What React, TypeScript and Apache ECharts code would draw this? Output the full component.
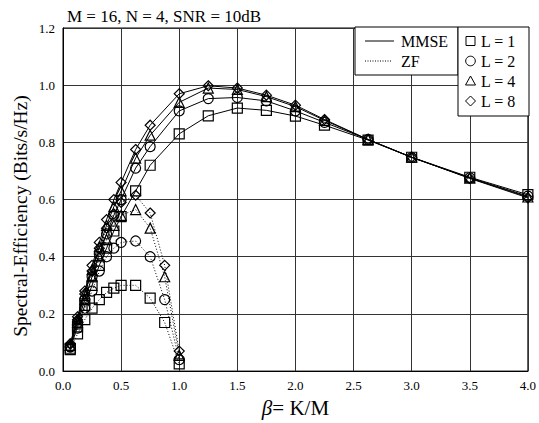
import React, { useEffect, useRef } from "react";
import * as echarts from "echarts";

const betaMMSE = [0.0625, 0.125, 0.1875, 0.25, 0.3125, 0.375, 0.4375, 0.5, 0.625, 0.75, 1.0, 1.25, 1.5, 1.75, 2.0, 2.25, 2.625, 3.0, 3.5, 4.0];
const betaZF = [0.0625, 0.125, 0.1875, 0.25, 0.3125, 0.375, 0.4375, 0.5, 0.625, 0.75, 0.875, 1.0];

const mmseL1 = [0.08, 0.155, 0.23, 0.3, 0.37, 0.43, 0.49, 0.54, 0.63, 0.72, 0.83, 0.893, 0.92, 0.912, 0.892, 0.86, 0.808, 0.748, 0.678, 0.617];
const mmseL2 = [0.085, 0.17, 0.25, 0.33, 0.41, 0.48, 0.545, 0.6, 0.71, 0.785, 0.91, 0.953, 0.957, 0.945, 0.91, 0.87, 0.81, 0.747, 0.676, 0.612];
const mmseL4 = [0.09, 0.18, 0.27, 0.355, 0.435, 0.51, 0.575, 0.63, 0.745, 0.825, 0.94, 0.99, 0.985, 0.96, 0.925, 0.877, 0.81, 0.748, 0.675, 0.609];
const mmseL8 = [0.095, 0.19, 0.28, 0.37, 0.45, 0.53, 0.6, 0.66, 0.775, 0.86, 0.97, 0.998, 0.99, 0.965, 0.93, 0.88, 0.81, 0.748, 0.674, 0.606];

const zfL1 = [0.075, 0.13, 0.18, 0.22, 0.25, 0.275, 0.29, 0.3, 0.3, 0.255, 0.17, 0.025];
const zfL2 = [0.085, 0.15, 0.22, 0.28, 0.35, 0.4, 0.43, 0.45, 0.455, 0.4, 0.25, 0.04];
const zfL4 = [0.09, 0.17, 0.25, 0.33, 0.4, 0.46, 0.51, 0.545, 0.565, 0.5, 0.33, 0.055];
const zfL8 = [0.095, 0.18, 0.27, 0.35, 0.43, 0.5, 0.55, 0.59, 0.615, 0.553, 0.37, 0.07];

const seriesNamesL = ["L = 1", "L = 2", "L = 4", "L = 8"];
const symbols = ["rect", "circle", "triangle", "diamond"];
const methodNames = ["MMSE", "ZF"];
const yAxisTitle = "Spectral-Efficiency (Bits/s/Hz)";

const FONT = "'Liberation Serif', 'Times New Roman', serif";

function pairs(xs: number[], ys: number[]) {
  return xs.map((x, i) => [x, ys[i]]);
}

export default function App() {
  const ref = useRef<HTMLDivElement>(null);
  useEffect(() => {
    if (!ref.current) return;
    const chart = echarts.init(ref.current, undefined, { renderer: "svg" });
    const mmse = [mmseL1, mmseL2, mmseL4, mmseL8];
    const zf = [zfL1, zfL2, zfL4, zfL8];
    const series: any[] = [];
    mmse.forEach((d, i) => {
      series.push({
        type: "line",
        name: methodNames[0] + " " + seriesNamesL[i],
        data: pairs(betaMMSE, d),
        symbol: symbols[i],
        symbolSize: 10,
        showSymbol: true,
        lineStyle: { color: "#000", width: 1, type: "solid" },
        itemStyle: { color: "rgba(0,0,0,0)", borderColor: "#000", borderWidth: 1.2 },
        z: 3,
      });
    });
    zf.forEach((d, i) => {
      series.push({
        type: "line",
        name: methodNames[1] + " " + seriesNamesL[i],
        data: pairs(betaZF, d),
        symbol: symbols[i],
        symbolSize: 10,
        showSymbol: true,
        lineStyle: { color: "#000", width: 1, type: [1, 2] },
        itemStyle: { color: "rgba(0,0,0,0)", borderColor: "#000", borderWidth: 1.2 },
        z: 3,
      });
    });

    // legend boxes
    const b1x = 355, b1y = 27, b1w = 103, b1h = 48;
    const b2x = 458, b2y = 27, b2w = 71, b2h = 89;
    const rowY1 = [41, 61];
    const rowY2 = [41, 61, 81, 101];
    const mx = 470.5;
    const graphic: any[] = [
      { type: "rect", shape: { x: b1x, y: b1y, width: b1w, height: b1h }, style: { fill: "#fff", stroke: "#000", lineWidth: 1 }, z: 10 },
      { type: "rect", shape: { x: b2x, y: b2y, width: b2w, height: b2h }, style: { fill: "#fff", stroke: "#000", lineWidth: 1 }, z: 10 },
      { type: "line", shape: { x1: 365, y1: rowY1[0], x2: 394, y2: rowY1[0] }, style: { stroke: "#000", lineWidth: 1 }, z: 11 },
      { type: "line", shape: { x1: 365, y1: rowY1[1], x2: 391, y2: rowY1[1] }, style: { stroke: "#000", lineWidth: 1, lineDash: [1, 1.5] }, z: 11 },
      { type: "text", x: 401, y: rowY1[0], style: { text: methodNames[0], font: "16px " + FONT, fill: "#000", textVerticalAlign: "middle" }, z: 11 },
      { type: "text", x: 401, y: rowY1[1], style: { text: methodNames[1], font: "16px " + FONT, fill: "#000", textVerticalAlign: "middle" }, z: 11 },
      { type: "rect", shape: { x: mx - 4.5, y: rowY2[0] - 4.5, width: 9, height: 9 }, style: { fill: "none", stroke: "#000", lineWidth: 1 }, z: 11 },
      { type: "circle", shape: { cx: mx, cy: rowY2[1], r: 4.8 }, style: { fill: "none", stroke: "#000", lineWidth: 1 }, z: 11 },
      { type: "polygon", shape: { points: [[mx, rowY2[2] - 5], [mx + 5, rowY2[2] + 4], [mx - 5, rowY2[2] + 4]] }, style: { fill: "none", stroke: "#000", lineWidth: 1 }, z: 11 },
      { type: "polygon", shape: { points: [[mx, rowY2[3] - 5], [mx + 5, rowY2[3]], [mx, rowY2[3] + 5], [mx - 5, rowY2[3]]] }, style: { fill: "none", stroke: "#000", lineWidth: 1 }, z: 11 },
      {
        type: "text", x: 20, y: 216, rotation: Math.PI / 2,
        style: { text: yAxisTitle, font: "19.5px " + FONT, fill: "#000", textAlign: "center", textVerticalAlign: "middle" }, z: 11,
      },
    ];
    seriesNamesL.forEach((n, i) => {
      graphic.push({ type: "text", x: 481, y: rowY2[i], style: { text: n, font: "16px " + FONT, fill: "#000", textVerticalAlign: "middle" }, z: 11 });
    });

    chart.setOption({
      animation: false,
      backgroundColor: "#fff",
      title: {
        text: "M = 16, N = 4, SNR = 10dB",
        left: 62,
        top: 3,
        textStyle: { fontFamily: FONT, fontSize: 17, fontWeight: "normal", color: "#000" },
      },
      grid: { left: 63, right: 10, top: 28, bottom: 47, show: true, borderColor: "#000", borderWidth: 1, backgroundColor: "transparent" },
      xAxis: {
        type: "value",
        min: 0,
        max: 4,
        interval: 0.5,
        axisLine: { show: true, lineStyle: { color: "#000" } },
        axisTick: { show: false },
        splitLine: { show: true, lineStyle: { color: "#333", width: 1 } },
        axisLabel: { formatter: (v: number) => v.toFixed(1), fontFamily: FONT, fontSize: 13, color: "#000", margin: 8 },
        name: "{b|β}= K/M",
        nameLocation: "middle",
        nameGap: 23,
        nameTextStyle: {
          fontFamily: FONT, fontSize: 21, color: "#000",
          rich: { b: { fontFamily: FONT, fontSize: 21, fontStyle: "italic", color: "#000" } },
        },
      },
      yAxis: {
        type: "value",
        min: 0,
        max: 1.2,
        interval: 0.2,
        axisLine: { show: true, lineStyle: { color: "#000" } },
        axisTick: { show: false },
        splitLine: { show: true, lineStyle: { color: "#333", width: 1 } },
        axisLabel: { formatter: (v: number) => v.toFixed(1), fontFamily: FONT, fontSize: 13, color: "#000", margin: 8 },
      },
      graphic,
      series,
    });
    return () => chart.dispose();
  }, []);
  return <div ref={ref} style={{ width: 539, height: 423, position: "absolute", left: 0, top: 0 }} />;
}
